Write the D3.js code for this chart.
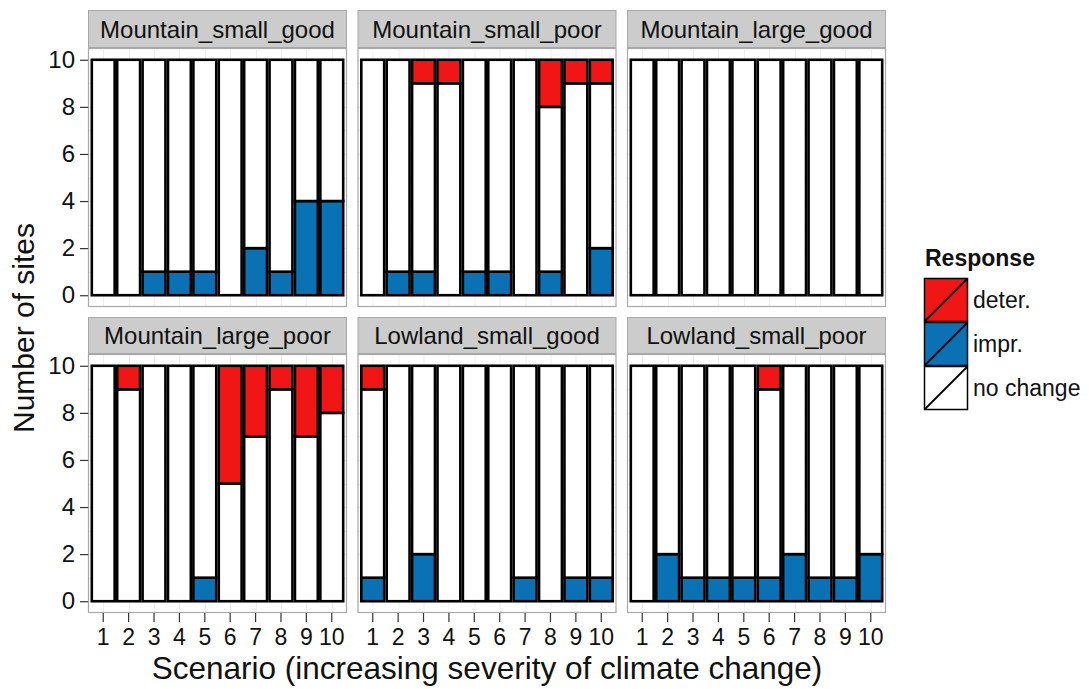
<!DOCTYPE html>
<html>
<head>
<meta charset="utf-8">
<script src="https://cdn.jsdelivr.net/npm/d3@7"></script>
<style>
  html, body { margin: 0; padding: 0; background: #fff; }
  svg { display: block; font-family: "Liberation Sans", Arial, Helvetica, sans-serif; }
</style>
</head>
<body>
<svg id="chart" width="1089" height="689"></svg>
<script>
// Scenarios on the x axis and the six site groups (facets)
const scenarios = ["1", "2", "3", "4", "5", "6", "7", "8", "9", "10"];
const facets = [
  "Mountain_small_good", "Mountain_small_poor", "Mountain_large_good",
  "Mountain_large_poor", "Lowland_small_good", "Lowland_small_poor"
];

// Number of sites per response, one row per facet (same order as facets)
const improved = [
  [0, 0, 1, 1, 1, 0, 2, 1, 4, 4],
  [0, 1, 1, 0, 1, 1, 0, 1, 0, 2],
  [0, 0, 0, 0, 0, 0, 0, 0, 0, 0],
  [0, 0, 0, 0, 1, 0, 0, 0, 0, 0],
  [1, 0, 2, 0, 0, 0, 1, 0, 1, 1],
  [0, 2, 1, 1, 1, 1, 2, 1, 1, 2]
];
const noChange = [
  [10, 10, 9, 9, 9, 10, 8, 9, 6, 6],
  [10, 9, 8, 9, 9, 9, 10, 7, 9, 7],
  [10, 10, 10, 10, 10, 10, 10, 10, 10, 10],
  [10, 9, 10, 10, 9, 5, 7, 9, 7, 8],
  [8, 10, 8, 10, 10, 10, 9, 10, 9, 9],
  [10, 8, 9, 9, 9, 8, 8, 9, 9, 8]
];
const deteriorated = [
  [0, 0, 0, 0, 0, 0, 0, 0, 0, 0],
  [0, 0, 1, 1, 0, 0, 0, 2, 1, 1],
  [0, 0, 0, 0, 0, 0, 0, 0, 0, 0],
  [0, 1, 0, 0, 0, 5, 3, 1, 3, 2],
  [1, 0, 0, 0, 0, 0, 0, 0, 0, 0],
  [0, 0, 0, 0, 0, 1, 0, 0, 0, 0]
];

const yTicks = [0, 2, 4, 6, 8, 10];
const responses = ["impr.", "no change", "deter."];      // stacking order, bottom to top
const legendOrder = ["deter.", "impr.", "no change"];
const fills = { "deter.": "#f01616", "impr.": "#0a72b4", "no change": "#ffffff" };

const svg = d3.select("#chart");

// Facet grid geometry
const colX = [88, 357.5, 627];
const panelW = 259;
const rows = [
  { stripTop: 10, stripH: 38 },
  { stripTop: 317, stripH: 37 }
];
const panelH = 259;

const x = d3.scaleBand().domain(scenarios).range([0, panelW]).paddingInner(0.1).paddingOuter(0.15);
const y = d3.scaleLinear().domain([-0.5, 10.5]).range([panelH, 0]);

const stack = d3.stack().keys(responses);

facets.forEach((name, i) => {
  const r = Math.floor(i / 3), c = i % 3;
  const left = colX[c];
  const row = rows[r];
  const top = row.stripTop + row.stripH;

  // Strip
  const strip = svg.append("g").attr("transform", `translate(${left},${row.stripTop})`);
  strip.append("rect")
    .attr("x", 0.5).attr("y", 0.5)
    .attr("width", panelW - 1).attr("height", row.stripH - 1)
    .attr("fill", "#cccccc").attr("stroke", "#a8a8a8").attr("stroke-width", 1);
  strip.append("text")
    .attr("x", panelW / 2).attr("y", row.stripH / 2 + 8.5)
    .attr("text-anchor", "middle")
    .attr("font-size", 24).attr("fill", "#111")
    .text(name);

  const g = svg.append("g").attr("transform", `translate(${left},${top})`);

  // Panel background and faint grid
  g.append("rect").attr("width", panelW).attr("height", panelH).attr("fill", "#fff");
  const grid = g.append("g").attr("stroke", "#efefef").attr("stroke-width", 1);
  grid.selectAll("line.h").data(d3.range(0, 11, 1)).join("line")
    .attr("x1", 0).attr("x2", panelW)
    .attr("y1", d => Math.round(y(d)) + 0.5).attr("y2", d => Math.round(y(d)) + 0.5);
  grid.selectAll("line.v").data(scenarios).join("line")
    .attr("y1", 0).attr("y2", panelH)
    .attr("x1", d => Math.round(x(d) + x.bandwidth() / 2) + 0.5)
    .attr("x2", d => Math.round(x(d) + x.bandwidth() / 2) + 0.5);

  // Stacked bars
  const rowsData = scenarios.map((s, j) => ({
    scenario: s,
    "impr.": improved[i][j],
    "no change": noChange[i][j],
    "deter.": deteriorated[i][j]
  }));
  const series = stack(rowsData);
  g.selectAll("g.layer").data(series).join("g")
    .attr("class", "layer")
    .attr("fill", d => fills[d.key])
    .selectAll("rect")
    .data(d => d.filter(p => p[1] - p[0] > 0))
    .join("rect")
    .attr("x", d => x(d.data.scenario))
    .attr("width", x.bandwidth())
    .attr("y", d => y(d[1]))
    .attr("height", d => y(d[0]) - y(d[1]))
    .attr("stroke", "#000")
    .attr("stroke-width", 2.6);

  // Panel border
  g.append("rect")
    .attr("x", 0.5).attr("y", 0.5)
    .attr("width", panelW - 1).attr("height", panelH - 1)
    .attr("fill", "none").attr("stroke", "#a8a8a8").attr("stroke-width", 1.2);

  // Y axis on the left column
  if (c === 0) {
    const ya = g.append("g")
      .call(d3.axisLeft(y).tickValues(yTicks).tickSize(8).tickPadding(5).tickFormat(d3.format("d")));
    ya.select(".domain").remove();
    ya.selectAll(".tick line").attr("stroke", "#333").attr("stroke-width", 1.2);
    ya.selectAll(".tick text")
      .attr("font-size", 24).attr("fill", "#111")
      .attr("font-family", "Liberation Sans, Arial, sans-serif");
  }
  // X axis on the bottom row
  if (r === 1) {
    const xa = g.append("g").attr("transform", `translate(0,${panelH})`)
      .call(d3.axisBottom(x).tickSize(9).tickPadding(7));
    xa.select(".domain").remove();
    xa.selectAll(".tick line").attr("stroke", "#333").attr("stroke-width", 1.2);
    xa.selectAll(".tick text")
      .attr("font-size", 23).attr("fill", "#111")
      .attr("font-family", "Liberation Sans, Arial, sans-serif");
  }
});

// Axis titles
svg.append("text")
  .attr("x", 487).attr("y", 679)
  .attr("text-anchor", "middle")
  .attr("font-size", 31.5).attr("fill", "#111")
  .text("Scenario (increasing severity of climate change)");

svg.append("text")
  .attr("transform", "translate(34,328) rotate(-90)")
  .attr("text-anchor", "middle")
  .attr("font-size", 30).attr("fill", "#111")
  .text("Number of sites");

// Legend
const legend = svg.append("g").attr("transform", "translate(924,0)");
legend.append("text")
  .attr("x", 1).attr("y", 266)
  .attr("font-size", 23).attr("font-weight", "bold").attr("fill", "#111")
  .text("Response");
const keySize = 44;
const keys = legend.selectAll("g.key").data(legendOrder).join("g")
  .attr("class", "key")
  .attr("transform", (d, k) => `translate(0,${278 + k * keySize})`);
keys.append("rect")
  .attr("x", 0.5).attr("y", 0.5)
  .attr("width", keySize - 1).attr("height", keySize - 1)
  .attr("fill", d => fills[d]).attr("stroke", "#000").attr("stroke-width", 1.5);
keys.append("line")
  .attr("x1", 1).attr("y1", keySize - 1).attr("x2", keySize - 1).attr("y2", 1)
  .attr("stroke", "#000").attr("stroke-width", 1.8);
keys.append("text")
  .attr("x", keySize + 5).attr("y", keySize / 2 + 8)
  .attr("font-size", 23).attr("fill", "#111")
  .text(d => d);
</script>
</body>
</html>
